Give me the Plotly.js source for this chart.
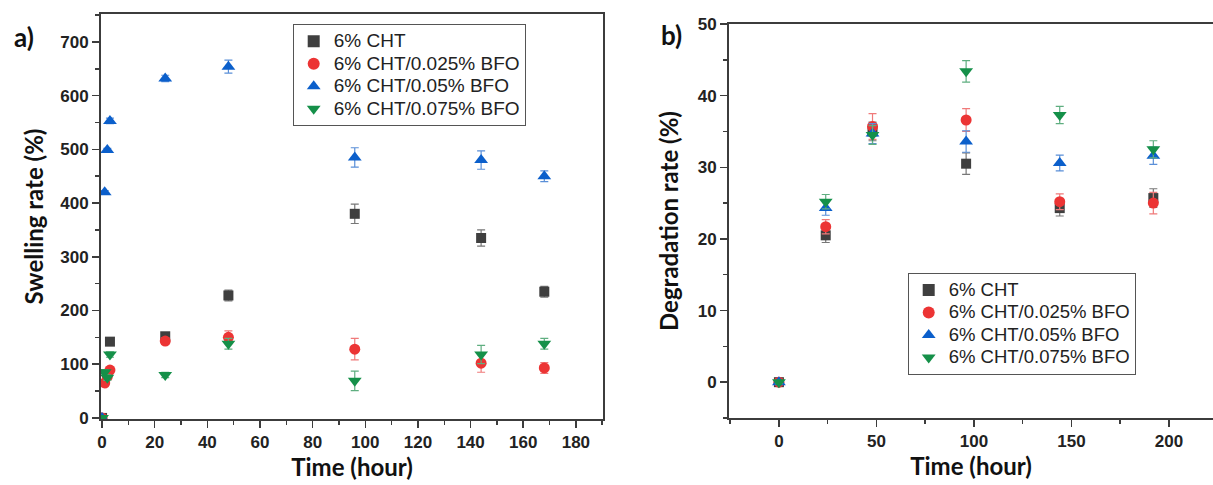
<!DOCTYPE html>
<html><head><meta charset="utf-8">
<script src="https://cdn.plot.ly/plotly-3.0.1.min.js"></script>
<style>html,body{margin:0;padding:0;background:#fff}#chart{width:1213px;height:485px}</style>
</head><body><div id="chart"></div>
<script>
// ---- data: (a) swelling ----
var timeA = [0, 1, 2, 3, 24, 48, 96, 144, 168];
var chtSwell = [0, null, null, 142, 152, 228, 380, 335, 235];
var chtSwellErr = [1, 0, 0, 5, 5, 10, 18, 15, 10];
var bfo025Swell = [0, 65, 77, 89, 143, 150, 128, 102, 93];
var bfo025SwellErr = [1, 5, 5, 5, 6, 12, 20, 17, 10];
var bfo05Swell = [0, 420, 499, 553, 632, 654, 485, 480, 450];
var bfo05SwellErr = [1, 3, 3, 5, 6, 12, 18, 17, 10];
var bfo075Swell = [0, 85, 75, 118, 80, 138, 69, 118, 138];
var bfo075SwellErr = [1, 5, 5, 5, 5, 10, 18, 17, 10];
// ---- data: (b) degradation ----
var timeB = [0, 24, 48, 96, 144, 192];
var chtDeg = [0, 20.5, 35.0, 30.5, 24.3, 25.7];
var chtDegErr = [0.2, 1.0, 1.3, 1.5, 1.1, 1.3];
var bfo025Deg = [0, 21.7, 35.7, 36.6, 25.2, 25.0];
var bfo025DegErr = [0.2, 1.0, 1.8, 1.6, 1.1, 1.5];
var bfo05Deg = [0, 24.3, 34.7, 33.6, 30.6, 31.6];
var bfo05DegErr = [0.2, 1.0, 1.4, 1.5, 1.1, 1.2];
var bfo075Deg = [0, 25.2, 34.5, 43.4, 37.3, 32.5];
var bfo075DegErr = [0.2, 1.0, 1.3, 1.5, 1.2, 1.2];

var names = ['6% CHT', '6% CHT/0.025% BFO', '6% CHT/0.05% BFO', '6% CHT/0.075% BFO'];
var colors = ['#3f3f3f', '#ec3434', '#0b5fcb', '#159049'];
var errColors = ['#777777', '#f07a7a', '#5a8fd8', '#5fae80'];
var symbols = ['square', 'circle', 'triangle-up', 'triangle-down'];
var sizes = [10, 11, 12, 12];

var swellY = [chtSwell, bfo025Swell, bfo05Swell, bfo075Swell];
var swellE = [chtSwellErr, bfo025SwellErr, bfo05SwellErr, bfo075SwellErr];
var degY = [chtDeg, bfo025Deg, bfo05Deg, bfo075Deg];
var degE = [chtDegErr, bfo025DegErr, bfo05DegErr, bfo075DegErr];

function lbl(s, px) { return '<span style="font-size:' + px + 'px">' + s + '</span>'; }

var traces = [];
for (var i = 0; i < 4; i++) {
  traces.push({
    x: timeA, y: swellY[i], type: 'scatter', mode: 'markers',
    name: lbl(names[i], 19), legend: 'legend', xaxis: 'x', yaxis: 'y',
    marker: {symbol: symbols[i], size: sizes[i], color: colors[i]},
    error_y: {type: 'data', array: swellE[i], visible: true, color: errColors[i], thickness: 1.2, width: 4}
  });
}
for (var j = 0; j < 4; j++) {
  traces.push({
    x: timeB, y: degY[j], type: 'scatter', mode: 'markers',
    name: lbl(names[j], 18.5), legend: 'legend2', xaxis: 'x2', yaxis: 'y2',
    marker: {symbol: symbols[j], size: sizes[j], color: colors[j]},
    error_y: {type: 'data', array: degE[j], visible: true, color: errColors[j], thickness: 1.2, width: 4}
  });
}

var tickFont = {family: 'Liberation Sans, Arial, sans-serif', size: 17, color: '#222', weight: 'bold'};
var titleFont = {family: 'Lato, Open Sans, sans-serif', size: 24, color: '#111', weight: 'bold'};
var axisBase = {
  showgrid: false, zeroline: false, showline: true, linecolor: '#3c3c3c', linewidth: 2,
  mirror: true, ticks: 'outside', ticklen: 7, tickwidth: 1.5, tickcolor: '#3c3c3c',
  tickfont: tickFont
};
function ax(extra) { return Object.assign({}, axisBase, extra); }

var layout = {
  width: 1213, height: 485,
  margin: {l: 0, r: 0, t: 0, b: 0},
  paper_bgcolor: '#fff', plot_bgcolor: '#fff',
  showlegend: true,
  xaxis: ax({domain: [101/1213, 603/1213], range: [-0.4, 190.3], dtick: 20, tick0: 0,
    minor: {dtick: 10, ticks: 'outside', ticklen: 4, tickcolor: '#3c3c3c'},
    title: {text: 'Time (hour)', font: titleFont, standoff: 6}, anchor: 'y'}),
  yaxis: ax({domain: [(485-419)/485, (485-14)/485], range: [-2, 752], dtick: 100, tick0: 0,
    minor: {dtick: 50, ticks: 'outside', ticklen: 4, tickcolor: '#3c3c3c'},
    title: {text: 'Swelling rate (%)', font: titleFont, standoff: 10}, anchor: 'x'}),
  xaxis2: ax({domain: [729/1213, 1], range: [-25.6, 222.6], dtick: 50, tick0: 0,
    minor: {dtick: 25, ticks: 'outside', ticklen: 4, tickcolor: '#3c3c3c'},
    title: {text: 'Time (hour)', font: titleFont, standoff: 6}, anchor: 'y2'}),
  yaxis2: ax({domain: [(485-418)/485, (485-24)/485], range: [-5, 50], dtick: 10, tick0: 0,
    minor: {dtick: 5, ticks: 'outside', ticklen: 4, tickcolor: '#3c3c3c'},
    title: {text: 'Degradation rate (%)', font: titleFont, standoff: 12}, anchor: 'x2'}),
  legend: {x: 292.7/1213, y: (485-24)/485, xanchor: 'left', yanchor: 'top',
    bgcolor: '#fff', bordercolor: '#555', borderwidth: 1,
    font: {family: 'Liberation Sans, Arial, sans-serif', size: 15, color: '#222'}, itemsizing: 'constant'},
  legend2: {x: 907.7/1213, y: (485-272.7)/485, xanchor: 'left', yanchor: 'top',
    bgcolor: '#fff', bordercolor: '#555', borderwidth: 1,
    font: {family: 'Liberation Sans, Arial, sans-serif', size: 15, color: '#222'}, itemsizing: 'constant'},
  annotations: [
    {text: 'a)', xref: 'paper', yref: 'paper', x: 24/1213, y: (485-37)/485, xanchor: 'center', yanchor: 'middle', showarrow: false,
     font: {family: 'Lato, sans-serif', size: 26, color: '#111', weight: 'bold'}},
    {text: 'b)', xref: 'paper', yref: 'paper', x: 671/1213, y: (485-35)/485, xanchor: 'center', yanchor: 'middle', showarrow: false,
     font: {family: 'Lato, sans-serif', size: 26, color: '#111', weight: 'bold'}}
  ]
};

Plotly.newPlot('chart', traces, layout, {displayModeBar: false, staticPlot: true});
</script>
</body></html>
